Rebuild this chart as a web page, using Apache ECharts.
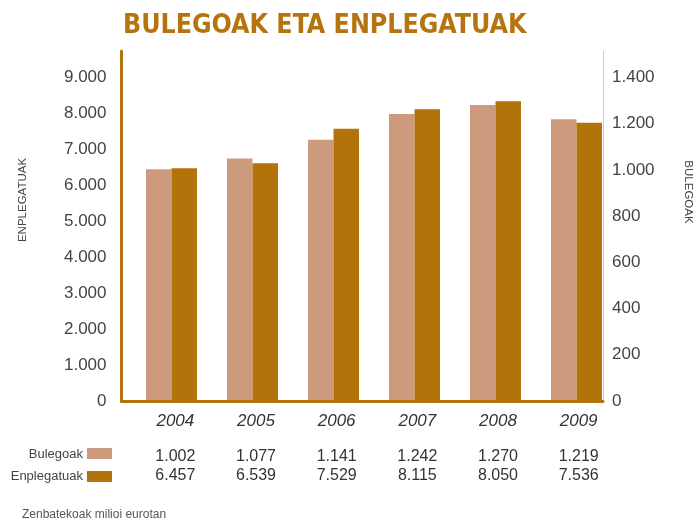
<!DOCTYPE html>
<html>
<head>
<meta charset="utf-8">
<script src="https://cdn.jsdelivr.net/npm/echarts@6/dist/echarts.min.js"></script>
<style>
  html, body { margin: 0; padding: 0; background: #fff; }
  #chart { width: 697px; height: 531px; }
</style>
</head>
<body>
<div id="chart"></div>
<script>
// urteak
const years = ['2004', '2005', '2006', '2007', '2008', '2009']
// barren altuerak (irudian irakurrita)
const bulegoak = [1003, 1049, 1131, 1242, 1281, 1219]
const enplegatuak = [6474, 6613, 7576, 8115, 8338, 7743]
// taulako testuak
const bulegoakTable = ['1.002', '1.077', '1.141', '1.242', '1.270', '1.219']
const enplegatuakTable = ['6.457', '6.539', '7.529', '8.115', '8.050', '7.536']
// ardatzen muturrak
const leftTop = 9000
const rightTop = 1400

const gold = '#b2730b'
const tan = '#cd9a7d'
const font = "'Liberation Sans', Arial, sans-serif"

// ardatz goiak: etiketa gorena 77.5 px-tan
const leftMax = leftTop * 350 / 323.5
const rightMax = rightTop * 350 / 323.5

const fmt = (top) => function (v) {
    if (v > top + 0.5) return ''
    if (v >= 1000) {
        return Math.floor(v / 1000) + '.' + String(Math.round(v % 1000)).padStart(3, '0')
    }
    return String(v)
}

const chart = echarts.init(document.getElementById('chart'))
let option = {
    animation: false,
    backgroundColor: '#fff',
    title: {
        text: 'BULEGOAK ETA ENPLEGATUAK',
        left: 118,
        top: 8,
        textStyle: {
            fontFamily: "'DejaVu Sans Condensed', sans-serif",
            fontSize: 26.5,
            fontWeight: 'bold',
            color: '#b5740e'
        }
    },
    grid: [
        // ardatzen markoa
        { left: 121.5, right: 94, top: 51, bottom: 130 },
        // barrak
        { left: 131, right: 80, top: 51, bottom: 130 },
        // etiketak
        { left: 135, right: 78, top: 51, bottom: 130 }
    ],
    xAxis: [
        {
            gridIndex: 0, type: 'category', data: years, z: 5,
            axisLine: { lineStyle: { color: gold, width: 3 } },
            axisTick: { show: false }, axisLabel: { show: false }
        },
        {
            gridIndex: 1, type: 'category', data: years,
            axisLine: { show: false }, axisTick: { show: false }, axisLabel: { show: false }
        },
        {
            gridIndex: 2, type: 'category', data: years, position: 'bottom',
            axisLine: { show: false }, axisTick: { show: false },
            axisLabel: {
                margin: 12, fontSize: 17, fontStyle: 'italic',
                fontFamily: font, color: '#333'
            }
        },
        {
            gridIndex: 2, type: 'category', data: bulegoakTable, position: 'bottom', offset: 48,
            axisLine: { show: false }, axisTick: { show: false },
            axisLabel: { margin: 0, fontSize: 16, fontFamily: font, color: '#333' }
        },
        {
            gridIndex: 2, type: 'category', data: enplegatuakTable, position: 'bottom', offset: 67,
            axisLine: { show: false }, axisTick: { show: false },
            axisLabel: { margin: 0, fontSize: 16, fontFamily: font, color: '#333' }
        }
    ],
    yAxis: [
        {
            gridIndex: 0, type: 'value', position: 'left',
            min: 0, max: leftMax, interval: 1000,
            axisLine: { show: true, lineStyle: { color: gold, width: 3 } },
            axisTick: { show: false }, splitLine: { show: false },
            axisLabel: { margin: 15, fontSize: 17, fontFamily: font, color: '#444', formatter: fmt(leftTop) }
        },
        {
            gridIndex: 0, type: 'value', position: 'right',
            min: 0, max: rightMax, interval: 200,
            axisLine: { show: true, lineStyle: { color: '#cccccc', width: 1 } },
            axisTick: { show: false }, splitLine: { show: false },
            axisLabel: { margin: 9, fontSize: 17, fontFamily: font, color: '#444', formatter: fmt(rightTop) }
        },
        {
            gridIndex: 1, type: 'value', position: 'left', min: 0, max: leftMax,
            axisLine: { show: false }, axisTick: { show: false }, axisLabel: { show: false }, splitLine: { show: false }
        },
        {
            gridIndex: 1, type: 'value', position: 'right', min: 0, max: rightMax,
            axisLine: { show: false }, axisTick: { show: false }, axisLabel: { show: false }, splitLine: { show: false }
        },
        {
            gridIndex: 2, type: 'value', min: 0, max: 1,
            axisLine: { show: false }, axisTick: { show: false }, axisLabel: { show: false }, splitLine: { show: false }
        }
    ],
    series: [
        {
            name: 'Bulegoak', type: 'bar', xAxisIndex: 1, yAxisIndex: 3,
            data: bulegoak, barWidth: 25.5, barGap: 0,
            itemStyle: { color: tan }
        },
        {
            name: 'Enplegatuak', type: 'bar', xAxisIndex: 1, yAxisIndex: 2,
            data: enplegatuak, barWidth: 25.5, barGap: 0,
            itemStyle: { color: gold }
        }
    ],
    graphic: [
        {
            type: 'text', x: 23, y: 200, rotation: Math.PI / 2,
            style: { text: 'ENPLEGATUAK', fontSize: 11.5, fontFamily: font, fill: '#444', align: 'center', verticalAlign: 'middle' }
        },
        {
            type: 'text', x: 688, y: 192, rotation: -Math.PI / 2,
            style: { text: 'BULEGOAK', fontSize: 11.5, fontFamily: font, fill: '#444', align: 'center', verticalAlign: 'middle' }
        },
        // legenda
        { type: 'rect', shape: { x: 87, y: 448, width: 25, height: 11 }, style: { fill: tan } },
        { type: 'rect', shape: { x: 87, y: 471, width: 25, height: 11 }, style: { fill: gold } },
        {
            type: 'text', x: 83, y: 454,
            style: { text: 'Bulegoak', fontSize: 13, fontFamily: font, fill: '#444', align: 'right', verticalAlign: 'middle' }
        },
        {
            type: 'text', x: 83, y: 476,
            style: { text: 'Enplegatuak', fontSize: 13, fontFamily: font, fill: '#444', align: 'right', verticalAlign: 'middle' }
        },
        {
            type: 'text', x: 22, y: 515,
            style: { text: 'Zenbatekoak milioi eurotan', fontSize: 12, fontFamily: font, fill: '#555', align: 'left', verticalAlign: 'middle' }
        }
    ]
}
chart.setOption(option, true)
</script>
</body>
</html>
